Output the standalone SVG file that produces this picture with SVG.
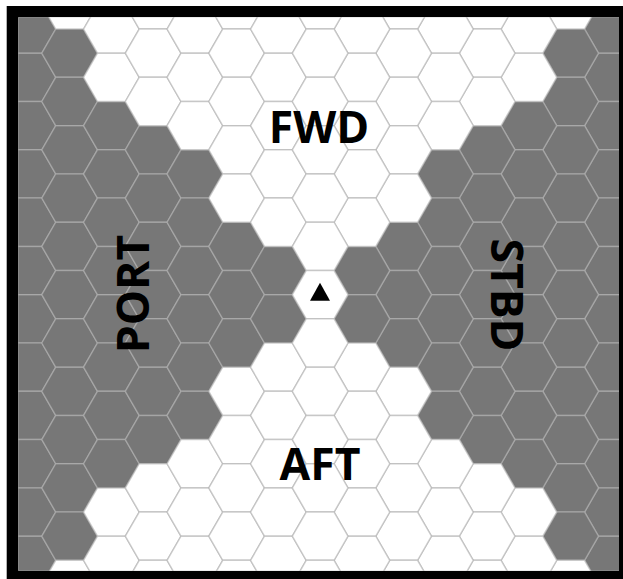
<svg xmlns="http://www.w3.org/2000/svg" width="623" height="579" viewBox="0 0 623 579">
<style>
.w{fill:#fff}
.g{fill:#777}
.w,.g{stroke:#b0b0b0;stroke-opacity:.6;stroke-width:1.5}
.lbl{font-family:"Open Sans","DejaVu Sans",sans-serif;font-weight:700;font-size:44.5px;fill:#000;text-anchor:middle}
</style>
<defs>
<path id="h" d="M-27.85,0L-13.93,-24.15L13.93,-24.15L27.85,0L13.93,24.15L-13.93,24.15Z"/>
<clipPath id="clip"><rect x="18.3" y="17.3" width="600.7" height="553.4"/></clipPath>
</defs>
<rect x="0" y="0" width="623" height="579" fill="#fff"/>
<rect id="frame" x="6.7" y="6" width="616.3" height="573" fill="#000"/>
<rect x="18.3" y="17.3" width="600.7" height="553.4" fill="#fff"/>
<g id="grid" clip-path="url(#clip)">
<g id="gray-hexes" class="g">
<g transform="translate(27.9,0)"><use href="#h" y="29.05"/><use href="#h" y="77.35"/><use href="#h" y="125.65"/><use href="#h" y="173.95"/><use href="#h" y="222.25"/><use href="#h" y="270.55"/><use href="#h" y="318.85"/><use href="#h" y="367.15"/><use href="#h" y="415.45"/><use href="#h" y="463.75"/><use href="#h" y="512.05"/><use href="#h" y="560.35"/></g>
<g transform="translate(612.4,0)"><use href="#h" y="29.05"/><use href="#h" y="77.35"/><use href="#h" y="125.65"/><use href="#h" y="173.95"/><use href="#h" y="222.25"/><use href="#h" y="270.55"/><use href="#h" y="318.85"/><use href="#h" y="367.15"/><use href="#h" y="415.45"/><use href="#h" y="463.75"/><use href="#h" y="512.05"/><use href="#h" y="560.35"/></g>
<g transform="translate(69.65,0)"><use href="#h" y="53.2"/><use href="#h" y="101.5"/><use href="#h" y="149.8"/><use href="#h" y="198.1"/><use href="#h" y="246.4"/><use href="#h" y="294.7"/><use href="#h" y="343"/><use href="#h" y="391.3"/><use href="#h" y="439.6"/><use href="#h" y="487.9"/><use href="#h" y="536.2"/></g>
<g transform="translate(570.65,0)"><use href="#h" y="53.2"/><use href="#h" y="101.5"/><use href="#h" y="149.8"/><use href="#h" y="198.1"/><use href="#h" y="246.4"/><use href="#h" y="294.7"/><use href="#h" y="343"/><use href="#h" y="391.3"/><use href="#h" y="439.6"/><use href="#h" y="487.9"/><use href="#h" y="536.2"/></g>
<g transform="translate(111.4,0)"><use href="#h" y="125.65"/><use href="#h" y="173.95"/><use href="#h" y="222.25"/><use href="#h" y="270.55"/><use href="#h" y="318.85"/><use href="#h" y="367.15"/><use href="#h" y="415.45"/><use href="#h" y="463.75"/></g>
<g transform="translate(528.9,0)"><use href="#h" y="125.65"/><use href="#h" y="173.95"/><use href="#h" y="222.25"/><use href="#h" y="270.55"/><use href="#h" y="318.85"/><use href="#h" y="367.15"/><use href="#h" y="415.45"/><use href="#h" y="463.75"/></g>
<g transform="translate(153.15,0)"><use href="#h" y="149.8"/><use href="#h" y="198.1"/><use href="#h" y="246.4"/><use href="#h" y="294.7"/><use href="#h" y="343"/><use href="#h" y="391.3"/><use href="#h" y="439.6"/></g>
<g transform="translate(487.15,0)"><use href="#h" y="149.8"/><use href="#h" y="198.1"/><use href="#h" y="246.4"/><use href="#h" y="294.7"/><use href="#h" y="343"/><use href="#h" y="391.3"/><use href="#h" y="439.6"/></g>
<g transform="translate(194.9,0)"><use href="#h" y="173.95"/><use href="#h" y="222.25"/><use href="#h" y="270.55"/><use href="#h" y="318.85"/><use href="#h" y="367.15"/><use href="#h" y="415.45"/></g>
<g transform="translate(445.4,0)"><use href="#h" y="173.95"/><use href="#h" y="222.25"/><use href="#h" y="270.55"/><use href="#h" y="318.85"/><use href="#h" y="367.15"/><use href="#h" y="415.45"/></g>
<g transform="translate(236.65,0)"><use href="#h" y="246.4"/><use href="#h" y="294.7"/><use href="#h" y="343"/></g>
<g transform="translate(403.65,0)"><use href="#h" y="246.4"/><use href="#h" y="294.7"/><use href="#h" y="343"/></g>
<g transform="translate(278.4,0)"><use href="#h" y="270.55"/><use href="#h" y="318.85"/></g>
<g transform="translate(361.9,0)"><use href="#h" y="270.55"/><use href="#h" y="318.85"/></g>
</g>
<g id="white-hexes" class="w">
<g transform="translate(69.65,0)"><use href="#h" y="4.9"/><use href="#h" y="584.5"/></g>
<g transform="translate(570.65,0)"><use href="#h" y="4.9"/><use href="#h" y="584.5"/></g>
<g transform="translate(111.4,0)"><use href="#h" y="29.05"/><use href="#h" y="77.35"/><use href="#h" y="512.05"/><use href="#h" y="560.35"/></g>
<g transform="translate(528.9,0)"><use href="#h" y="29.05"/><use href="#h" y="77.35"/><use href="#h" y="512.05"/><use href="#h" y="560.35"/></g>
<g transform="translate(153.15,0)"><use href="#h" y="4.9"/><use href="#h" y="53.2"/><use href="#h" y="101.5"/><use href="#h" y="487.9"/><use href="#h" y="536.2"/><use href="#h" y="584.5"/></g>
<g transform="translate(487.15,0)"><use href="#h" y="4.9"/><use href="#h" y="53.2"/><use href="#h" y="101.5"/><use href="#h" y="487.9"/><use href="#h" y="536.2"/><use href="#h" y="584.5"/></g>
<g transform="translate(194.9,0)"><use href="#h" y="29.05"/><use href="#h" y="77.35"/><use href="#h" y="125.65"/><use href="#h" y="463.75"/><use href="#h" y="512.05"/><use href="#h" y="560.35"/></g>
<g transform="translate(445.4,0)"><use href="#h" y="29.05"/><use href="#h" y="77.35"/><use href="#h" y="125.65"/><use href="#h" y="463.75"/><use href="#h" y="512.05"/><use href="#h" y="560.35"/></g>
<g transform="translate(236.65,0)"><use href="#h" y="4.9"/><use href="#h" y="53.2"/><use href="#h" y="101.5"/><use href="#h" y="149.8"/><use href="#h" y="198.1"/><use href="#h" y="391.3"/><use href="#h" y="439.6"/><use href="#h" y="487.9"/><use href="#h" y="536.2"/><use href="#h" y="584.5"/></g>
<g transform="translate(403.65,0)"><use href="#h" y="4.9"/><use href="#h" y="53.2"/><use href="#h" y="101.5"/><use href="#h" y="149.8"/><use href="#h" y="198.1"/><use href="#h" y="391.3"/><use href="#h" y="439.6"/><use href="#h" y="487.9"/><use href="#h" y="536.2"/><use href="#h" y="584.5"/></g>
<g transform="translate(278.4,0)"><use href="#h" y="29.05"/><use href="#h" y="77.35"/><use href="#h" y="125.65"/><use href="#h" y="173.95"/><use href="#h" y="222.25"/><use href="#h" y="367.15"/><use href="#h" y="415.45"/><use href="#h" y="463.75"/><use href="#h" y="512.05"/><use href="#h" y="560.35"/></g>
<g transform="translate(361.9,0)"><use href="#h" y="29.05"/><use href="#h" y="77.35"/><use href="#h" y="125.65"/><use href="#h" y="173.95"/><use href="#h" y="222.25"/><use href="#h" y="367.15"/><use href="#h" y="415.45"/><use href="#h" y="463.75"/><use href="#h" y="512.05"/><use href="#h" y="560.35"/></g>
<g transform="translate(320.15,0)"><use href="#h" y="4.9"/><use href="#h" y="53.2"/><use href="#h" y="101.5"/><use href="#h" y="149.8"/><use href="#h" y="198.1"/><use href="#h" y="246.4"/><use href="#h" y="294.7"/><use href="#h" y="343"/><use href="#h" y="391.3"/><use href="#h" y="439.6"/><use href="#h" y="487.9"/><use href="#h" y="536.2"/><use href="#h" y="584.5"/></g>
</g>
</g>
<g id="center-marker"><polygon points="320,282.7 310,300.7 330,300.7" fill="#000"/></g>
<g id="labels">
<text class="lbl" x="319" y="143">FWD</text>
<text class="lbl" x="320" y="479.5">AFT</text>
<text class="lbl" transform="translate(148.8,294) rotate(-90)">PORT</text>
<text class="lbl" transform="translate(490.5,295) rotate(90)">STBD</text>
</g>
</svg>
